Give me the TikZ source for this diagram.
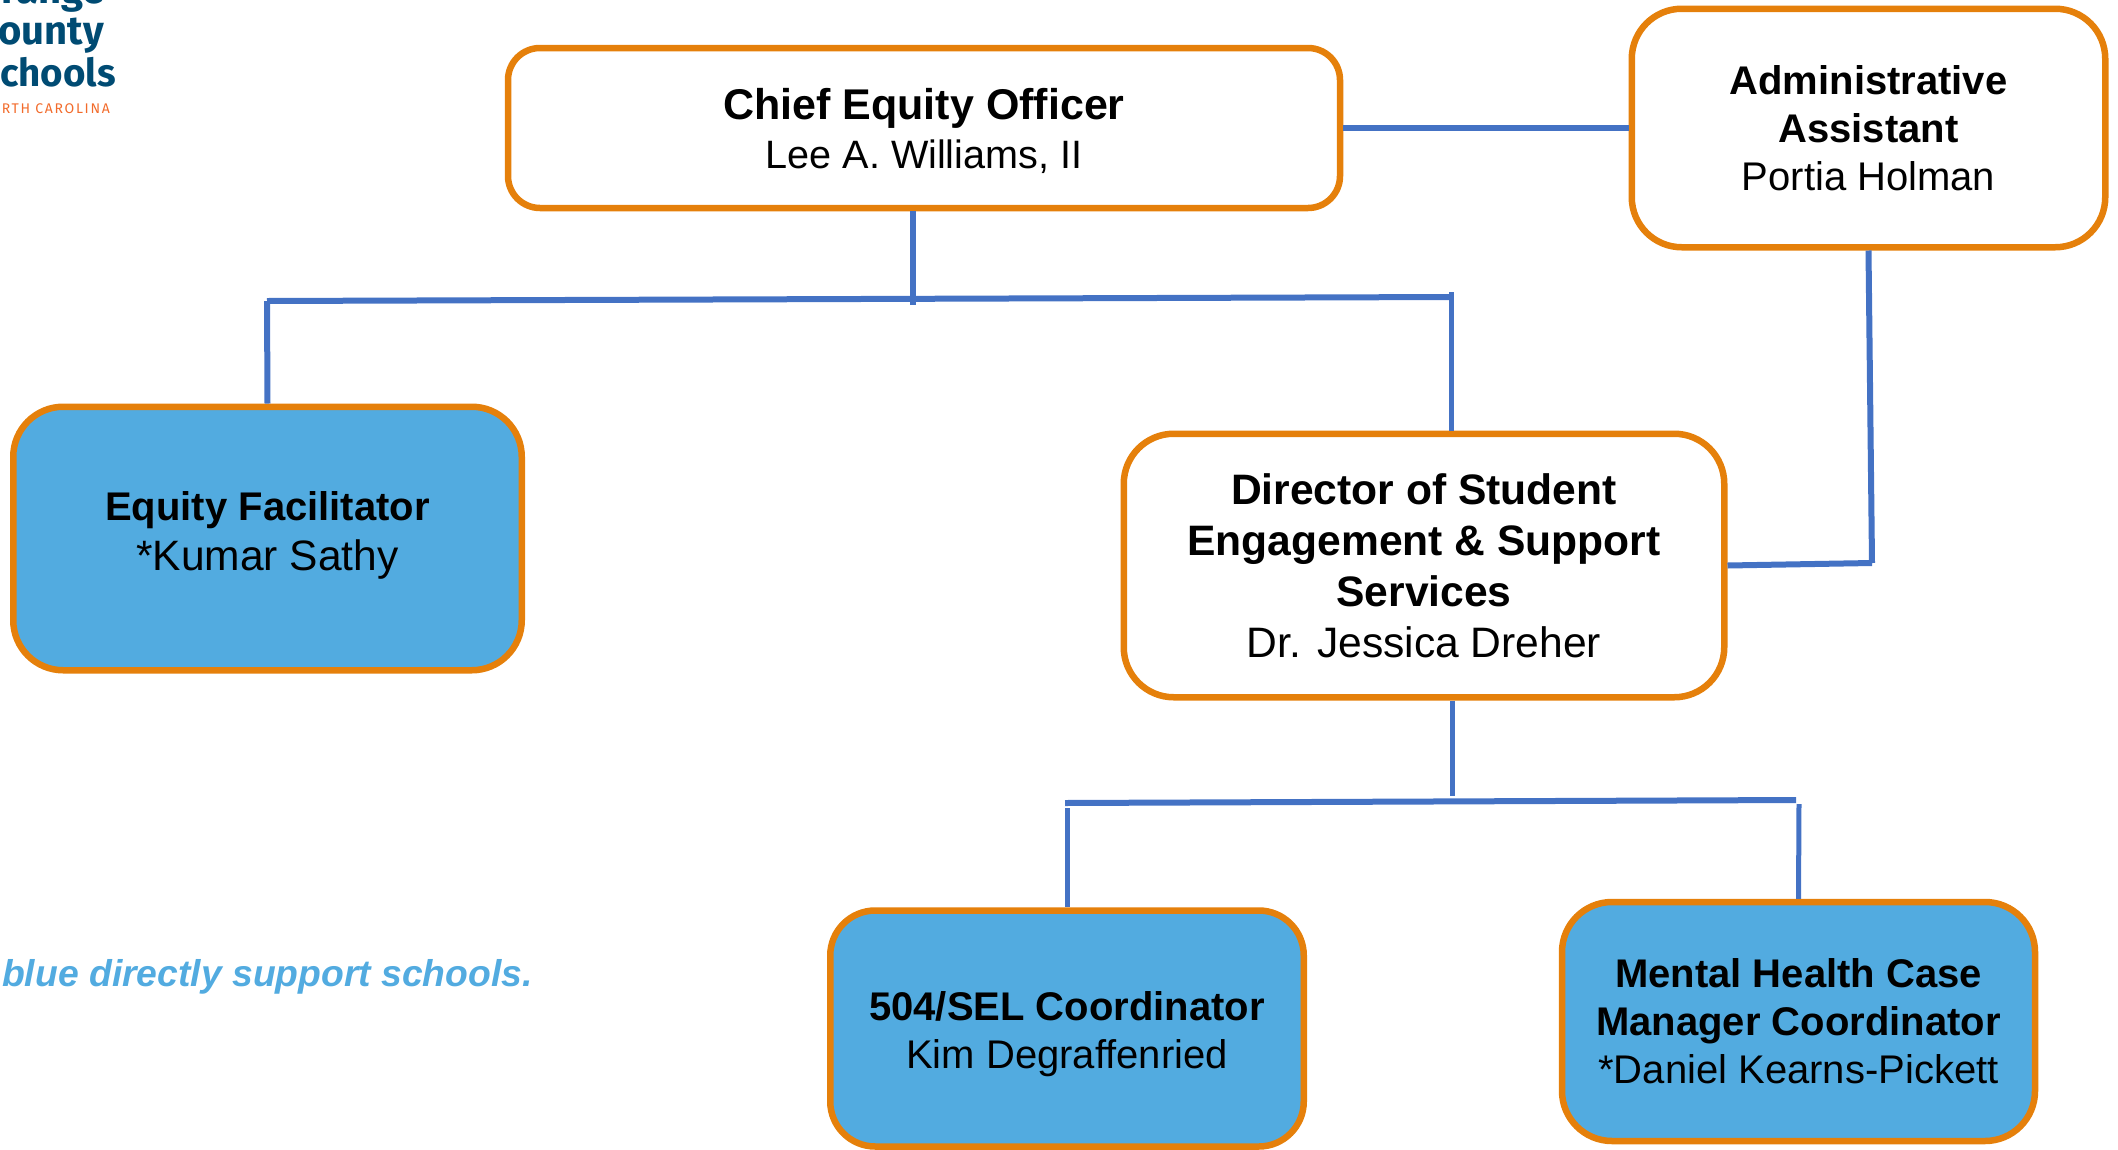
\documentclass[tikz,border=0pt]{standalone}
\usepackage{fontspec}
\setmainfont{Liberation Sans}
\newfontfamily\logofont{Fira Sans}
\definecolor{boxedge}{HTML}{E5800B}
\definecolor{boxblue}{HTML}{52ABE0}
\definecolor{linkblue}{HTML}{4472C4}
\definecolor{logoblue}{HTML}{004B73}
\definecolor{logoorange}{HTML}{F26B2B}
\tikzset{
  post/.style={draw=boxedge, line width=6.5pt, rounded corners=50pt, align=center, inner sep=0pt, text=black},
  school/.style={post, fill=boxblue},
  link/.style={draw=linkblue, line width=6pt},
  logo/.style={inner sep=0pt, anchor=base east, text=logoblue, font=\logofont\bfseries\fontsize{40}{40}\selectfont}
}
\newcommand{\namesize}[2]{{\fontsize{#1}{48}\selectfont #2}}
\begin{document}
\begin{tikzpicture}[x=1pt,y=-1pt]
\useasboundingbox (0,0) rectangle (2118,1149);

% draw logo
\node (logo1) [logo] at (105,3) {range};
\node (logo2) [logo] at (104,44) {ounty};
\node (logo3) [logo, font=\logofont\bfseries\fontsize{38.5}{40}\selectfont] at (116,86) {chools};
\node (logo4) [logo, text=logoorange, font=\logofont\fontsize{14}{14}\selectfont\addfontfeature{LetterSpace=12}] at (110,113) {RTH CAROLINA};

% draw boxes
\node (chief) [post, rounded corners=32pt, minimum width=832pt, minimum height=160pt, font=\fontsize{43}{49}\selectfont] at (924,128) {\rule{0pt}{37pt}\textbf{Chief Equity Officer}\\\namesize{39.6}{Lee A. Williams, II}};
\node (admin) [post, minimum width=473.5pt, minimum height=238.5pt, font=\fontsize{40}{48}\selectfont] at (1868.5,128) {\textbf{Administrative}\\\textbf{Assistant}\\Portia Holman};
\node (director) [post, minimum width=600.5pt, minimum height=263.5pt, font=\fontsize{42.6}{51}\selectfont] at (1424,565.5) {\textbf{Director of Student}\\\textbf{Engagement \& Support}\\\textbf{Services}\\Dr. Jessica Dreher};
\node (equity) [school, minimum width=508.5pt, minimum height=263.5pt, font=\fontsize{40}{50}\selectfont] at (267.5,538.5) {\textbf{Equity Facilitator}\\\namesize{42.5}{*Kumar Sathy}\rule[-15pt]{0pt}{0pt}};
\node (sel) [school, rounded corners=45pt, minimum width=473.5pt, minimum height=236pt, font=\fontsize{40}{48}\selectfont] at (1067,1028.5) {\rule{0pt}{41pt}\textbf{504/SEL Coordinator}\\Kim Degraffenried};
\node (mental) [school, minimum width=473pt, minimum height=239pt, font=\fontsize{40}{48}\selectfont] at (1798.5,1021.5) {\textbf{Mental Health Case}\\\textbf{Manager Coordinator}\\*Daniel Kearns-Pickett};

% draw note
\node (note) [anchor=base west, inner sep=0pt, text=boxblue, font=\bfseries\itshape\fontsize{37.3}{38}\selectfont] at (2,986) {blue directly support schools.};

% draw upper links
\coordinate (bar_l) at (267,301);
\coordinate (bar_r) at (1451,297);
\coordinate (bar_m) at (913,305);
\draw [link] (chief.east) -- (admin.west);
\draw [link] (bar_m |- chief.south) -- (bar_m);
\draw [link] (bar_l) -- (bar_r);
\draw [link] (equity.north) -- (bar_l);
\draw [link, line width=5pt] (bar_r) ++(0,-5) -- (bar_r |- director.north);

% draw admin to director
\coordinate (turn) at (1872,563);
\draw [link] (admin.south) -- (turn);
\draw [link] (director.east) -- (turn);

% draw lower links
\coordinate (low_l) at (1065,803);
\coordinate (low_r) at (1796,800);
\coordinate (low_m) at (1452,796);
\draw [link] (low_l) -- (low_r);
\draw [link, line width=5pt] (low_m |- director.south) -- (low_m);
\draw [link, line width=5pt] (1067,808) coordinate (sel_top) -- (sel.north);
\draw [link, line width=5pt] (1799,804) coordinate (mental_top) -- (mental.north);
\end{tikzpicture}
\end{document}
